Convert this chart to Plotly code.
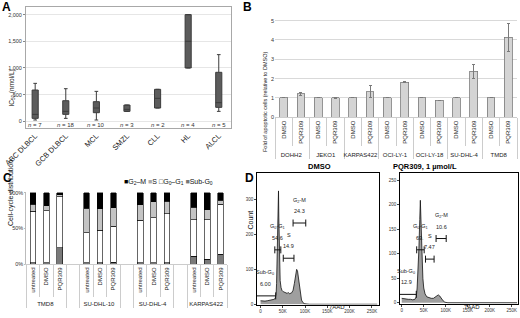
import plotly.graph_objects as go

# ---------------- Panel A data ----------------
a_groups = ["ABC DLBCL", "GCB DLBCL", "MCL", "SMZL", "CLL", "HL", "ALCL"]
a_n = [7, 18, 10, 3, 2, 4, 5]
a_lower = [25, 56, 25, 187, 250, 1000, 187]
a_q1 = [56, 131, 162, 187, 250, 1000, 262]
a_median = [131, 187, 250, 225, 431, 1500, 350]
a_q3 = [587, 387, 369, 306, 600, 2000, 919]
a_upper = [712, 612, 562, 306, 600, 2000, 1250]
a_ticks = [0, 500, 1000, 1500, 2000]
a_ticktext = ["0", "500", "1,000", "1,500", "2,000"]

# ---------------- Panel B data ----------------
b_lines = ["DOHH2", "JEKO1", "KARPAS422", "OCI-LY-1", "OCI-LY-18", "SU-DHL-4", "TMD8"]
b_treat = ["DMSO", "PQR309"]
b_dmso = [1, 1, 1, 1, 1, 1, 1]
b_pqr = [1.22, 1.0, 1.33, 1.82, 0.88, 2.37, 4.13]
b_pqr_err = [0.07, 0.03, 0.31, 0.03, 0.01, 0.38, 0.72]

# ---------------- Panel C data ----------------
c_lines = ["TMD8", "SU-DHL-10", "SU-DHL-4", "KARPAS422"]
c_treat = ["untreated", "DMSO", "PQR309"]
c_subg0 = [2, 1.5, 23, 1.5, 1.5, 2.5, 1.5, 1.5, 1.5, 11, 7, 13.5]
c_g0g1 = [72, 73, 71, 42.5, 46, 50.5, 59.5, 63.5, 69, 51, 55, 70]
c_s = [10, 7, 3, 34.5, 30, 26, 22, 22, 17.5, 17.5, 14, 6]
c_g2m = [16, 18.5, 3, 21.5, 22.5, 21, 17, 13, 12, 20.5, 24, 10.5]

# ---------------- Panel D data ----------------
d1_x = [0, 5, 10, 15, 20, 25, 30, 33, 35, 36, 37, 38, 39, 40.3, 41, 42, 43, 44, 46,
        48, 51, 55, 60, 62, 65, 70, 73, 76, 79, 81, 83, 85, 87, 89, 92, 95, 98, 102, 110, 262]
d1_y = [10, 9, 9, 10, 11, 12, 14, 17, 30, 60, 150, 195, 270, 325, 250, 165, 105, 68, 48,
        40, 36, 33, 31, 34, 30, 33, 40, 60, 88, 100, 95, 75, 48, 28, 12, 5, 2, 1, 0, 0]
d2_x = [0, 5, 10, 15, 20, 25, 30, 33, 35, 37, 39, 41, 42.3, 44, 46, 48, 50, 53, 57,
        62, 67, 72, 76, 80, 83, 86, 90, 94, 98, 105, 262]
d2_y = [9, 8, 8, 7, 7, 6, 7, 12, 30, 60, 110, 170, 209, 160, 90, 50, 30, 18, 12,
        10, 9, 9, 11, 14, 16, 14, 8, 4, 1, 0, 0]

d_gate_names = ["Sub-G<sub>0</sub>", "G<sub>0</sub>-G<sub>1</sub>", "S", "G<sub>2</sub>-M"]
d1_gate_pct = ["6.00", "54.6", "14.9", "24.3"]
d1_gate_lo = [-30, 32, 51, 73]
d1_gate_hi = [34, 45.5, 75, 101.5]
d1_gate_y = [24, 156, 132, 233]
d2_gate_pct = ["12.9", "69.", "7.47", "10.6"]
d2_gate_lo = [-30, 34, 54, 78]
d2_gate_hi = [33, 51, 73.5, 101]
d2_gate_y = [17, 108, 89, 131]
d_kticks = [0, 50, 100, 150, 200, 250]
d_kticktext = ["0", "50K", "100K", "150K", "200K", "250K"]

W, H = 520, 318
def px(p):
    return p / W
def py(p):
    return 1 - p / H

FONT = "Arial, Liberation Sans, sans-serif"
fig = go.Figure()

# ---- A: boxes
fig.add_trace(go.Box(
    x=a_groups, q1=a_q1, median=a_median, q3=a_q3,
    lowerfence=a_lower, upperfence=a_upper,
    width=0.2, whiskerwidth=0.6, fillcolor="#5c5c5c",
    line=dict(color="#3c3c3c", width=1), boxpoints=False,
    xaxis="x", yaxis="y", showlegend=False, hoverinfo="skip"))

# ---- B: bars
b_x_group, b_x_inner, b_y, b_err = [], [], [], []
for i, ln in enumerate(b_lines):
    b_x_group += [ln, ln]
    b_x_inner += b_treat
    b_y += [b_dmso[i], b_pqr[i]]
    b_err += [0, b_pqr_err[i]]
fig.add_trace(go.Bar(
    x=[b_x_group, b_x_inner], y=b_y, width=0.45,
    marker=dict(color="#d4d4d4", line=dict(color="#7a7a7a", width=0.8)),
    error_y=dict(type="data", array=b_err, color="#7a7a7a", thickness=1, width=1.5),
    xaxis="x2", yaxis="y2", showlegend=False))

# ---- C: stacked bars
c_x_group, c_x_inner, idx = [], [], []
k = 0
for i, ln in enumerate(c_lines):
    for t in c_treat:
        c_x_group.append(ln)
        c_x_inner.append(t)
        idx.append(k)
        k += 1
    if i < len(c_lines) - 1:
        c_x_group.append(" " * (i + 1))
        c_x_inner.append(" ")
        idx.append(None)

def spread(vals):
    return [vals[j] if j is not None else None for j in idx]

for vals, col in [(c_subg0, "#7a7a7a"), (c_g0g1, "#ffffff"), (c_s, "#c4c4c4"), (c_g2m, "#000000")]:
    fig.add_trace(go.Bar(
        x=[c_x_group, c_x_inner], y=spread(vals), width=0.42,
        marker=dict(color=col, line=dict(color="#000000", width=0.6)),
        xaxis="x3", yaxis="y3", showlegend=False))

# ---- D: histograms
for xs, ys, xa, ya in [(d1_x, d1_y, "x4", "y4"), (d2_x, d2_y, "x5", "y5")]:
    fig.add_trace(go.Scatter(
        x=xs, y=ys, mode="lines", fill="tozeroy", fillcolor="#9f9f9f",
        line=dict(color="#111111", width=0.8), xaxis=xa, yaxis=ya,
        showlegend=False, hoverinfo="skip"))

annotations = []
for lo, hi, gy, pct, xa, ya in [(d1_gate_lo, d1_gate_hi, d1_gate_y, d1_gate_pct, "x4", "y4"),
                               (d2_gate_lo, d2_gate_hi, d2_gate_y, d2_gate_pct, "x5", "y5")]:
    for g in range(4):
        fig.add_trace(go.Scatter(
            x=[lo[g], hi[g]], y=[gy[g], gy[g]], mode="lines+markers",
            line=dict(color="#111111", width=1),
            marker=dict(symbol="line-ns", size=5, line=dict(color="#111111", width=1)),
            xaxis=xa, yaxis=ya, showlegend=False, hoverinfo="skip"))
        cx = (max(lo[g], 0) + hi[g]) / 2 if g > 0 else 10
        annotations.append(dict(x=cx, y=gy[g], xref=xa, yref=ya, text=pct[g],
                                showarrow=False, yshift=12, font=dict(size=5.5, color="#222")))
        annotations.append(dict(x=cx, y=gy[g], xref=xa, yref=ya, text=d_gate_names[g],
                                showarrow=False, yshift=23, font=dict(size=5.5, color="#222")))

# n labels (A)
for g, n in zip(a_groups, a_n):
    annotations.append(dict(x=g, y=-62, xref="x", yref="y", text=f"<i>n</i> = {n}",
                            showarrow=False, font=dict(size=6, color="#333")))

# Panel letters
for letter, x0, y0 in [("A", 0, -2), ("B", 241, -2), ("C", 1, 169), ("D", 243, 169)]:
    annotations.append(dict(x=px(x0), y=py(y0), xref="paper", yref="paper", text=f"<b>{letter}</b>",
                            showarrow=False, xanchor="left", yanchor="top",
                            font=dict(size=12, color="#000")))

# Axis titles
annotations += [
    dict(x=px(6), y=py(68), xref="paper", yref="paper", text="IC<sub>50</sub> (nmol/L)",
         textangle=-90, showarrow=False, font=dict(size=6.5, color="#222")),
    dict(x=px(265), y=py(50), xref="paper", yref="paper",
         text="Fold of apoptotic cells (relative to DMSO)",
         textangle=-90, showarrow=False, font=dict(size=5.5, color="#222")),
    dict(x=px(5), y=py(228), xref="paper", yref="paper", text="Cell-cycle distribution",
         textangle=-90, showarrow=False, font=dict(size=7, color="#111")),
    dict(x=px(122), y=py(182), xref="paper", yref="paper",
         text='<span style="color:#000">■</span>G<sub>2</sub>–M <span style="color:#aaa">■</span>S '
              '□G<sub>0</sub>–G<sub>1</sub> <span style="color:#777">■</span>Sub-G<sub>0</sub>',
         showarrow=False, font=dict(size=7, color="#111")),
    dict(x=px(250), y=py(232), xref="paper", yref="paper", text="Count",
         textangle=-90, showarrow=False, font=dict(size=7, color="#111")),
    dict(x=px(319), y=py(166.5), xref="paper", yref="paper", text="<b>DMSO</b>",
         showarrow=False, font=dict(size=7.5, color="#000")),
    dict(x=px(459), y=py(166.5), xref="paper", yref="paper", text="<b>PQR309, 1 µmol/L</b>",
         showarrow=False, font=dict(size=7.5, color="#000")),
    dict(x=px(337), y=py(312), xref="paper", yref="paper", text="7AAD",
         showarrow=False, font=dict(size=6, color="#222")),
    dict(x=px(482), y=py(312), xref="paper", yref="paper", text="7AAD",
         showarrow=False, font=dict(size=6, color="#222")),
]

small = dict(family=FONT, size=5.5, color="#333")
tiny = dict(family=FONT, size=4.5, color="#333")

fig.update_layout(
    template="none",
    width=W, height=H, margin=dict(l=0, r=0, t=0, b=0, autoexpand=False),
    paper_bgcolor="white", plot_bgcolor="white",
    font=dict(family=FONT, color="#222"),
    barmode="stack", showlegend=False,
    annotations=annotations,
    xaxis=dict(domain=[px(26), px(231)], anchor="y", type="category", range=[-0.3, 6.4],
               tickangle=-45, tickfont=dict(family=FONT, size=7.5, color="#222"),
               showline=True, mirror=True, linecolor="#a8a8a8", linewidth=1, showgrid=False,
               ticks="", automargin=False),
    yaxis=dict(domain=[py(127.7), py(7.3)], anchor="x", range=[-119, 2137],
               tickvals=a_ticks, ticktext=a_ticktext, tickfont=small,
               showgrid=True, gridcolor="#e6e6e6", zeroline=False,
               ticks="outside", ticklen=2, tickcolor="#888",
               showline=True, mirror=True, linecolor="#a8a8a8", linewidth=1, automargin=False),
    xaxis2=dict(domain=[px(275), px(517)], anchor="y2", type="multicategory",
                tickangle=-90, tickfont=dict(family=FONT, size=6, color="#222"),
                showdividers=True, dividercolor="#cccccc", dividerwidth=1,
                tickson="boundaries", ticks="outside", ticklen=28, tickcolor="#cccccc",
                showline=True, linecolor="#cccccc", showgrid=False, automargin=False),
    yaxis2=dict(domain=[py(117.3), py(1.3)], anchor="x2", range=[0, 6], dtick=1,
                tickfont=small, showgrid=True, gridcolor="#d9d9d9", zeroline=False,
                ticks="", showline=False, automargin=False),
    xaxis3=dict(domain=[px(26.3), px(227.3)], anchor="y3", type="multicategory",
                tickangle=-90, tickfont=dict(family=FONT, size=6, color="#222"),
                showdividers=True, dividercolor="#cccccc", dividerwidth=1,
                tickson="boundaries", ticks="outside", ticklen=32, tickcolor="#cccccc",
                showline=True, linecolor="#cccccc", showgrid=False, automargin=False),
    yaxis3=dict(domain=[py(264), py(192.3)], anchor="x3", range=[0, 100.5],
                tickvals=[0, 50, 100], ticktext=["0%", "50%", "100%"], tickfont=small,
                showgrid=False, zeroline=False, showline=True, linecolor="#bbbbbb",
                ticks="outside", ticklen=1, tickcolor="#bbbbbb", automargin=False),
    xaxis4=dict(domain=[px(257), px(379)], anchor="y4", range=[-8, 266],
                tickvals=d_kticks, ticktext=d_kticktext, tickfont=tiny,
                showline=True, mirror=True, linecolor="#000", linewidth=0.8,
                ticks="outside", ticklen=2, showgrid=False, zeroline=False, automargin=False),
    yaxis4=dict(domain=[py(304.6), py(173.3)], anchor="x4", range=[-1, 375.5],
                tickvals=[0, 100, 200, 300], tickfont=tiny,
                showline=True, mirror=True, linecolor="#000", linewidth=0.8,
                ticks="outside", ticklen=2, showgrid=False, zeroline=False, automargin=False),
    xaxis5=dict(domain=[px(400), px(518)], anchor="y5", range=[-3.9, 264],
                tickvals=d_kticks, ticktext=d_kticktext, tickfont=tiny,
                showline=True, mirror=True, linecolor="#000", linewidth=0.8,
                ticks="outside", ticklen=2, showgrid=False, zeroline=False, automargin=False),
    yaxis5=dict(domain=[py(304), py(173)], anchor="x5", range=[-2.6, 264.7],
                tickvals=[0, 50, 100, 150, 200, 250], tickfont=tiny,
                showline=True, mirror=True, linecolor="#000", linewidth=0.8,
                ticks="outside", ticklen=2, showgrid=False, zeroline=False, automargin=False),
)

fig.write_html("out.html", config={"displayModeBar": False},
               post_script="document.body.style.margin='0';document.body.style.overflow='hidden';")
